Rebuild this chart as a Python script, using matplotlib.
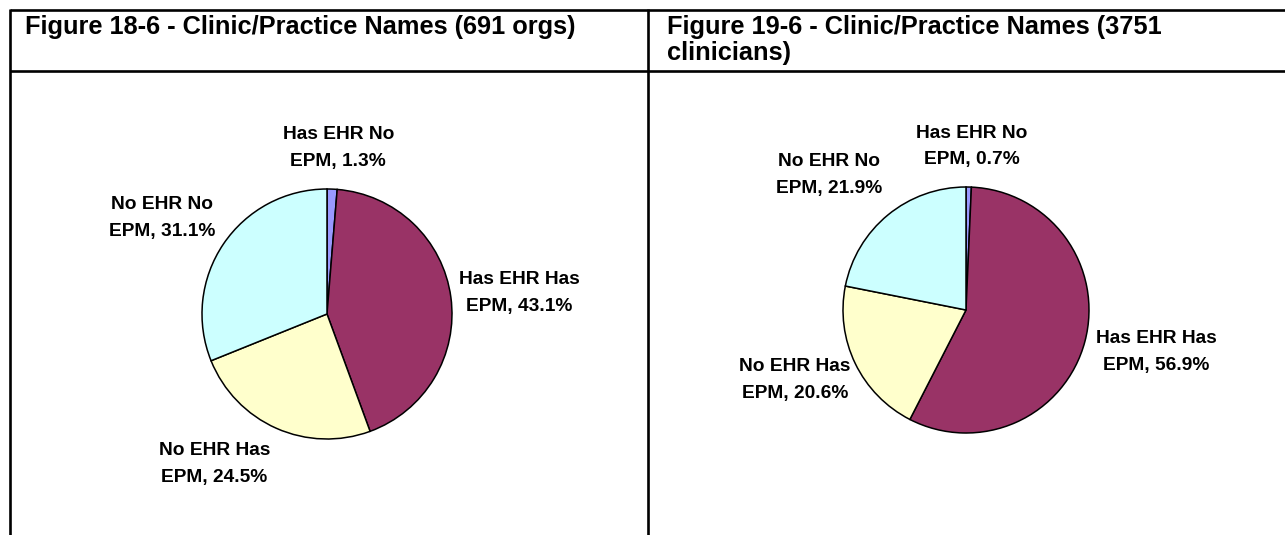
"""Two pie charts of EHR / EPM adoption laid out in a table."""
import matplotlib
matplotlib.use("Agg")
import matplotlib.pyplot as plt
from matplotlib import font_manager

# ---- data -------------------------------------------------------------
categories = ["Has EHR No EPM", "Has EHR Has EPM", "No EHR Has EPM", "No EHR No EPM"]
label_text = ["Has EHR No\nEPM", "Has EHR Has\nEPM", "No EHR Has\nEPM", "No EHR No\nEPM"]
orgs_pct = [1.3, 43.1, 24.5, 31.1]
clinicians_pct = [0.7, 56.9, 20.6, 21.9]
titles = [
    ["Figure 18-6 - Clinic/Practice Names (691 orgs)"],
    ["Figure 19-6 - Clinic/Practice Names (3751", "clinicians)"],
]
colors = ["#9999FF", "#993366", "#FFFFCC", "#CCFFFF"]

W, H, DPI = 1285, 535, 100
installed = {f.name for f in font_manager.fontManager.ttflist}
FONT = "Liberation Sans" if "Liberation Sans" in installed else "DejaVu Sans"
plt.rcParams["font.family"] = FONT

fig = plt.figure(figsize=(W / DPI, H / DPI), dpi=DPI)
bg = fig.add_axes([0, 0, 1, 1])
bg.set_xlim(0, W)
bg.set_ylim(H, 0)
bg.axis("off")

# table grid
lw = 1.9
bg.plot([9.5, W], [9.5, 9.5], color="black", lw=lw, solid_capstyle="butt")
bg.plot([9.5, W], [71, 71], color="black", lw=lw, solid_capstyle="butt")
bg.plot([10, 10], [8.5, H], color="black", lw=lw, solid_capstyle="butt")
bg.plot([648, 648], [8.5, H], color="black", lw=lw, solid_capstyle="butt")

# titles
for x0, lines in zip([25, 667], titles):
    for i, line in enumerate(lines):
        bg.text(x0, 34 + i * 26, line, fontsize=18.3, fontweight="bold",
                ha="left", va="baseline")


def draw_pie(cx, cy, r, values, label_pos):
    """Draw one pie centred at pixel (cx, cy) with radius r pixels."""
    size = 4 * r
    ax = fig.add_axes([(cx - size / 2) / W, 1 - (cy + size / 2) / H,
                       size / W, size / H])
    ax.pie(values, colors=colors, startangle=90, counterclock=False,
           radius=1, wedgeprops=dict(edgecolor="black", linewidth=1.1))
    ax.set_xlim(-2, 2)
    ax.set_ylim(-2, 2)
    ax.set_aspect("auto")
    ax.axis("off")
    for txt, val, (lx, ly) in zip(label_text, values, label_pos):
        ax.text(lx, ly, f"{txt}, {val:.1f}%", ha="center", va="center",
                fontsize=13.8, fontweight="bold", linespacing=1.75,
                clip_on=False)


draw_pie(327, 314, 125, orgs_pct,
         [(0.09, 1.33), (1.54, 0.17), (-0.90, -1.20), (-1.32, 0.77)])
draw_pie(966, 310, 123, clinicians_pct,
         [(0.05, 1.33), (1.55, -0.34), (-1.39, -0.57), (-1.11, 1.10)])

fig.savefig("out.png", dpi=DPI)
